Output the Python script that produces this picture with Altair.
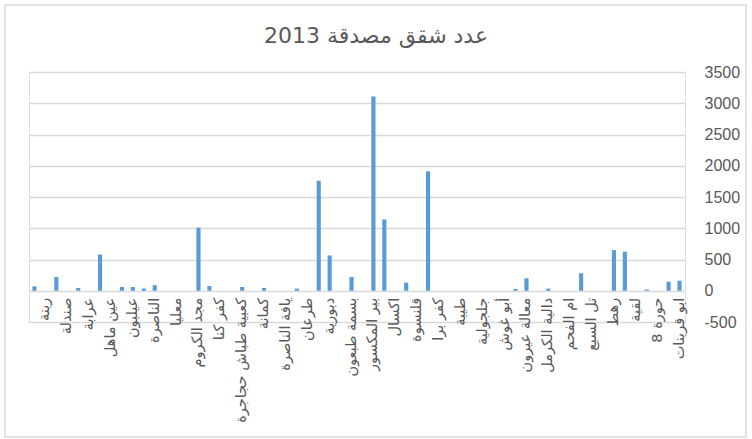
import altair as alt
import pandas as pd

# Approved housing units per locality, 2013
values = [70, 0, 220, 0, 45, 0, 580, 0, 60, 60,
          35, 90, 0, 0, 0, 1010, 75, 0, 0, 60,
          0, 45, 0, 0, 35, 0, 1760, 565, 0, 220,
          0, 3110, 1140, 0, 130, 0, 1910, 0, 0, 0,
          0, 0, 0, 0, 30, 200, 0, 35, 0, 0,
          280, 0, 0, 650, 625, 0, 20, 0, 145, 160]

# Axis labels are shown on every second category (odd positions)
labels = ["رينة", "صندلة", "عرابة", "عين ماهل", "عيلبون", "الناصرة",
          "معليا", "مجد الكروم", "كفر كنا", "كعبية طباش حجاجرة", "كمانة",
          "يافة الناصرة", "طرعان", "دبورية", "بسمة طبعون", "بير المكسور",
          "اكسال", "قلنسوة", "كفر برا", "طيبة", "جلجولية", "أبو غوش",
          "معالة عيرون", "دالية الكرمل", "ام الفحم", "تل السبع", "رهط",
          "لقية", "حورة 8", "ابو قرينات"]

title_text = "عدد شقق مصدقة 2013"
y_ticks = [-500, 0, 500, 1000, 1500, 2000, 2500, 3000, 3500]

bars_df = pd.DataFrame({"idx": list(range(len(values))), "value": values})
labels_df = pd.DataFrame({"idx": [2 * i + 1 for i in range(len(labels))],
                          "label": labels})

GRID = "#d9d9d9"
TEXT = "#595959"
BAR = "#5b9bd5"

x_enc = alt.X("idx:O", axis=None,
              scale=alt.Scale(paddingInner=0.62, paddingOuter=0.31))
y_scale = alt.Scale(domain=[-500, 3500], nice=False, zero=False)
y_axis = alt.Axis(orient="right", values=y_ticks, grid=True,
                  gridColor=GRID, gridWidth=1.3, domain=False,
                  ticks=False, labelPadding=19, labelFontSize=16,
                  labelColor=TEXT, labelFont="Liberation Sans",
                  labelOverlap=False, labelExpr="datum.value + ''",
                  title=None)

bars = alt.Chart(bars_df).mark_bar(color=BAR).encode(
    x=x_enc,
    y=alt.Y("value:Q", scale=y_scale, axis=y_axis),
    y2=alt.datum(0),
)

cat_labels = alt.Chart(labels_df).mark_text(
    angle=270, align="right", baseline="middle", dx=-7,
    font="DejaVu Sans", fontSize=14.5, color=TEXT,
).encode(
    x=x_enc,
    y=alt.datum(0, scale=y_scale, axis=y_axis),
    text="label:N",
)

frame = alt.Chart(pd.DataFrame({"k": [0]})).mark_rect(
    fill=None, stroke=GRID, strokeWidth=1.5
).encode(
    x=alt.value(-24), x2=alt.value(717),
    y=alt.value(-67), y2=alt.value(365),
)

title = alt.Chart(pd.DataFrame({"t": [title_text]})).mark_text(
    align="center", baseline="alphabetic", font="DejaVu Sans",
    fontSize=22, color=TEXT,
).encode(
    x=alt.value(347), y=alt.value(-29), text="t:N",
)

chart = alt.layer(frame, bars, cat_labels, title).properties(
    width=656, height=250,
    autosize=alt.AutoSizeParams(type="none"),
    padding={"left": 29, "top": 72, "right": 67, "bottom": 117},
).configure_view(stroke=None).configure_axis(
    labelOverlap=False
).configure(background="white")

chart.save("out.html", embed_options={"renderer": "svg", "actions": False})
